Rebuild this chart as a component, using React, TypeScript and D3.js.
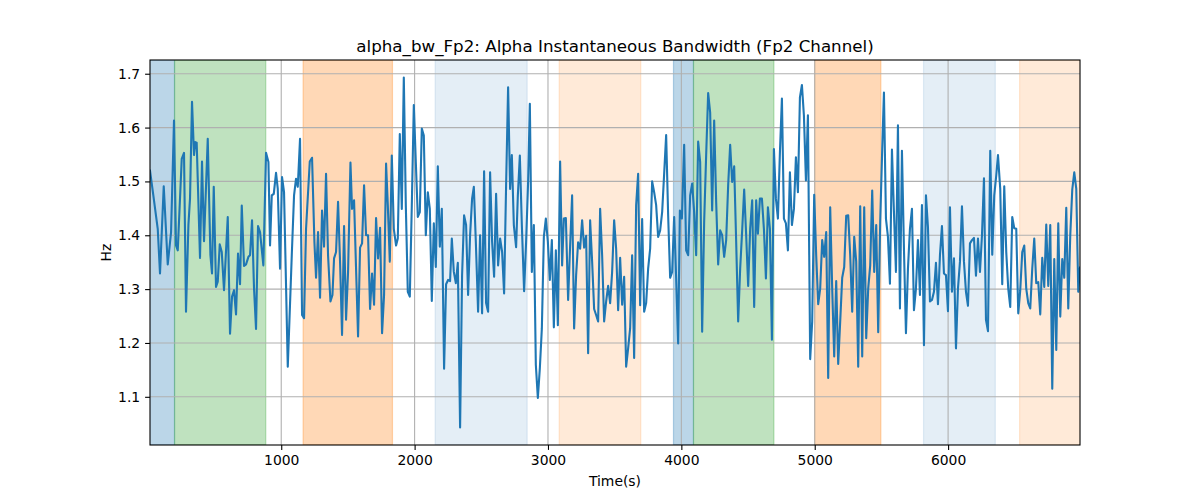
import { useEffect, useRef } from 'react';
import * as d3 from 'd3';

// sample times (s) and alpha bandwidth (Hz)
const times: number[] = [
  16, 41, 74, 91, 119, 149, 174, 196, 211, 224, 254, 271, 286, 304, 316, 331, 346, 356, 366, 391,
  406, 421, 449, 469, 481, 494, 511, 524, 539, 554, 571, 599, 616, 631, 646, 661, 676, 691, 704, 721,
  736, 754, 766, 781, 796, 811, 826, 841, 866,
  886, 904, 916, 929, 944, 961, 974, 991, 1006, 1021, 1049, 1079, 1096, 1111, 1124, 1141, 1156, 1171,
  1186, 1214, 1231, 1249, 1261, 1276, 1291, 1306, 1321, 1336, 1351, 1369, 1384, 1396, 1411, 1426, 1441,
  1456, 1471, 1486, 1501, 1519, 1531, 1546, 1561, 1576, 1591, 1606, 1621, 1636, 1651, 1666, 1681, 1696,
  1711, 1726, 1741, 1756, 1771,
  1786, 1799, 1814, 1829, 1844, 1861, 1874, 1889, 1904, 1919, 1934, 1949, 1964, 1979, 1994, 2009, 2024,
  2039, 2054, 2069, 2084, 2099, 2114, 2129, 2144, 2159, 2174, 2189, 2204, 2221, 2236, 2251, 2266, 2279,
  2294, 2309, 2324, 2341, 2356, 2371, 2386, 2401, 2416, 2431, 2444, 2459, 2476, 2491, 2506, 2521, 2536,
  2551, 2566, 2581, 2596, 2611, 2626, 2641, 2656, 2671, 2686,
  2701, 2716, 2729, 2744, 2761, 2774, 2789, 2804, 2821, 2836, 2851, 2864, 2879, 2894, 2909, 2924, 2939,
  2954, 2969, 2984, 2999, 3014, 3029, 3044, 3059, 3074, 3091, 3106, 3119, 3134, 3151, 3166, 3181, 3196,
  3211, 3226, 3241, 3256, 3271, 3286, 3301, 3316, 3331, 3346, 3361, 3376, 3391, 3406, 3421, 3436, 3451,
  3466, 3481, 3496, 3511, 3526, 3541, 3556, 3571,
  3586, 3601, 3616, 3631, 3646, 3661, 3676, 3691, 3706, 3721, 3736, 3751, 3766, 3781, 3796, 3811, 3826,
  3841, 3856, 3871, 3886, 3901, 3916, 3931, 3946, 3961, 3976, 3989, 4004, 4021, 4036, 4051, 4066, 4081,
  4096, 4111, 4126, 4141, 4156, 4171, 4186, 4201, 4216, 4231, 4246, 4261, 4276, 4291, 4306, 4321, 4336,
  4351, 4366, 4381, 4396, 4411, 4426, 4441, 4456, 4471, 4486,
  4501, 4516, 4531, 4546, 4561, 4574, 4589, 4604, 4619, 4634, 4649, 4664, 4679, 4694, 4709, 4724, 4739,
  4754, 4769, 4784, 4799, 4814, 4829, 4844, 4859, 4874, 4889, 4904, 4919, 4934, 4949, 4966, 4981, 4996,
  5011, 5026, 5041, 5056, 5071, 5086, 5101, 5116, 5131, 5146, 5161, 5176, 5191, 5206, 5221, 5236, 5251,
  5266, 5281, 5296, 5311, 5326, 5341, 5356, 5371,
  5386, 5401, 5416, 5431, 5446, 5461, 5476, 5491, 5506, 5519, 5534, 5549, 5564, 5579, 5594, 5609, 5624,
  5639, 5654, 5669, 5684, 5699, 5714, 5729, 5744, 5759, 5774, 5789, 5804, 5819, 5834, 5849, 5864, 5879,
  5894, 5909, 5924, 5939, 5954, 5969, 5984, 5999, 6014, 6029, 6044, 6059, 6074, 6089, 6104, 6119, 6134,
  6149, 6164, 6179, 6194, 6209, 6224, 6239, 6254, 6269, 6284, 6299, 6316,
  6331, 6346, 6361, 6374, 6391, 6406, 6421, 6436, 6451, 6466, 6481, 6496, 6511, 6526, 6541, 6556, 6571,
  6586, 6601, 6616, 6631, 6646, 6661, 6676, 6691, 6706, 6721, 6736, 6751, 6766, 6781, 6796, 6811, 6826,
  6841, 6856, 6871, 6886, 6901, 6916, 6931, 6946, 6961, 6976, 6989,
];

const bandwidth: number[] = [
  1.52, 1.474, 1.412, 1.329, 1.491, 1.346, 1.406, 1.613, 1.381, 1.372, 1.542, 1.553, 1.258, 1.419, 1.468,
  1.648, 1.549, 1.573, 1.572, 1.358, 1.537, 1.389, 1.579, 1.363, 1.329, 1.49, 1.304, 1.314, 1.383, 1.369,
  1.298, 1.434, 1.217, 1.286, 1.298, 1.253, 1.366, 1.309, 1.455, 1.343, 1.346, 1.36, 1.363, 1.428, 1.301,
  1.226, 1.417, 1.406, 1.344,
  1.553, 1.536, 1.381, 1.474, 1.477, 1.516, 1.486, 1.338, 1.508, 1.48, 1.156, 1.363, 1.474, 1.505, 1.49,
  1.579, 1.252, 1.246, 1.412, 1.537, 1.544, 1.386, 1.321, 1.406, 1.284, 1.446, 1.379, 1.514, 1.363, 1.277,
  1.289, 1.357, 1.369, 1.462, 1.351, 1.215, 1.417, 1.243, 1.332, 1.535, 1.449, 1.465, 1.338, 1.212, 1.377,
  1.385, 1.493, 1.4, 1.4, 1.263, 1.329, 1.271, 1.432, 1.357, 1.414, 1.218, 1.289,
  1.533, 1.456, 1.351, 1.548, 1.412, 1.381, 1.394, 1.588, 1.449, 1.693, 1.456, 1.295, 1.286, 1.456, 1.642,
  1.536, 1.434, 1.443, 1.598, 1.585, 1.4, 1.48, 1.449, 1.278, 1.422, 1.341, 1.528, 1.379, 1.449, 1.152,
  1.309, 1.317, 1.315, 1.394, 1.332, 1.311, 1.349, 1.043, 1.326, 1.437, 1.419, 1.289, 1.4, 1.468, 1.49,
  1.388, 1.258, 1.4, 1.255, 1.519, 1.274, 1.258, 1.517, 1.388, 1.323, 1.477, 1.344, 1.394, 1.369, 1.292,
  1.493,
  1.675, 1.486, 1.549, 1.419, 1.378, 1.474, 1.548, 1.419, 1.296, 1.388, 1.499, 1.644, 1.332, 1.419, 1.159,
  1.098, 1.153, 1.227, 1.397, 1.431, 1.388, 1.317, 1.391, 1.229, 1.372, 1.233, 1.537, 1.344, 1.431, 1.432,
  1.28, 1.381, 1.474, 1.227, 1.326, 1.387, 1.375, 1.428, 1.377, 1.399, 1.181, 1.428, 1.351, 1.263, 1.252,
  1.24, 1.449, 1.363, 1.24, 1.277, 1.306, 1.274, 1.332, 1.428, 1.375, 1.261, 1.358, 1.271, 1.323,
  1.156, 1.19, 1.227, 1.363, 1.172, 1.456, 1.514, 1.27, 1.43, 1.258, 1.274, 1.338, 1.375, 1.5, 1.48,
  1.456, 1.397, 1.409, 1.443, 1.514, 1.586, 1.437, 1.321, 1.332, 1.434, 1.32, 1.199, 1.446, 1.431, 1.568,
  1.372, 1.363, 1.474, 1.496, 1.443, 1.363, 1.574, 1.536, 1.221, 1.425, 1.549, 1.664, 1.628, 1.446, 1.613,
  1.462, 1.346, 1.409, 1.4, 1.36, 1.391, 1.493, 1.568, 1.499, 1.528, 1.388, 1.24, 1.338, 1.409, 1.485,
  1.4,
  1.306, 1.412, 1.465, 1.267, 1.465, 1.403, 1.468, 1.468, 1.412, 1.32, 1.452, 1.412, 1.206, 1.56, 1.468,
  1.431, 1.554, 1.654, 1.431, 1.422, 1.372, 1.517, 1.419, 1.449, 1.545, 1.48, 1.656, 1.679, 1.622, 1.502,
  1.623, 1.17, 1.24, 1.475, 1.363, 1.272, 1.301, 1.391, 1.36, 1.406, 1.135, 1.452, 1.301, 1.175, 1.315,
  1.161, 1.24, 1.321, 1.341, 1.436, 1.437, 1.363, 1.258, 1.397, 1.351, 1.156, 1.454, 1.175, 1.452,
  1.209, 1.301, 1.344, 1.483, 1.332, 1.419, 1.22, 1.425, 1.56, 1.665, 1.431, 1.397, 1.31, 1.559, 1.443,
  1.332, 1.604, 1.264, 1.557, 1.375, 1.218, 1.338, 1.412, 1.449, 1.261, 1.301, 1.391, 1.289, 1.456, 1.196,
  1.474, 1.415, 1.277, 1.28, 1.295, 1.349, 1.272, 1.363, 1.417, 1.329, 1.326, 1.259, 1.452, 1.295, 1.357,
  1.19, 1.301, 1.351, 1.454, 1.351, 1.295, 1.269, 1.385, 1.391, 1.395, 1.325, 1.394, 1.332, 1.4, 1.506,
  1.243, 1.222, 1.557,
  1.364, 1.474, 1.511, 1.549, 1.486, 1.309, 1.491, 1.369, 1.301, 1.267, 1.434, 1.413, 1.412, 1.255, 1.298,
  1.369, 1.381, 1.301, 1.274, 1.264, 1.338, 1.394, 1.311, 1.313, 1.253, 1.358, 1.304, 1.42, 1.306, 1.419,
  1.115, 1.356, 1.187, 1.422, 1.249, 1.356, 1.321, 1.451, 1.264, 1.4, 1.485, 1.517, 1.486, 1.295, 1.34,
];

// shaded segments: start, end, kind
const spanStarts: number[] = [0, 200, 1164, 2154, 3084, 3941, 4091, 4999, 5816, 6536];
const spanEnds: number[] = [200, 884, 1834, 2844, 3696, 4091, 4694, 5496, 6354, 7100];
const spanKinds: string[] = [
  'blue', 'green', 'orange', 'blueLight', 'orangeLight',
  'blue', 'green', 'orange', 'blueLight', 'orangeLight',
];

const xTicks: number[] = [1000, 2000, 3000, 4000, 5000, 6000];
const yTicks: number[] = [1.1, 1.2, 1.3, 1.4, 1.5, 1.6, 1.7];

const TITLE = 'alpha_bw_Fp2: Alpha Instantaneous Bandwidth (Fp2 Channel)';

const spanStyle: Record<string, { color: string; alpha: number }> = {
  blue: { color: '#1f77b4', alpha: 0.3 },
  green: { color: '#2ca02c', alpha: 0.3 },
  orange: { color: '#ff7f0e', alpha: 0.3 },
  blueLight: { color: '#1f77b4', alpha: 0.12 },
  orangeLight: { color: '#ff7f0e', alpha: 0.16 },
};

export default function App() {
  const svgRef = useRef<SVGSVGElement | null>(null);

  useEffect(() => {
    const svgEl = svgRef.current;
    if (!svgEl) return;
    const svg = d3.select(svgEl);
    svg.selectAll('*').remove();

    const W = 1200;
    const H = 500;
    const margin = { top: 60, right: 120, bottom: 55, left: 150 };
    const innerW = W - margin.left - margin.right;
    const innerH = H - margin.top - margin.bottom;
    const font = 'DejaVu Sans, sans-serif';

    const data = times.map((t, i) => ({ t, v: bandwidth[i] }));

    const x = d3
      .scaleLinear()
      .domain(d3.extent(times) as [number, number])
      .range([0, innerW]);

    const [vMin, vMax] = d3.extent(bandwidth) as [number, number];
    const pad = (vMax - vMin) * 0.05;
    const y = d3
      .scaleLinear()
      .domain([vMin - pad, vMax + pad])
      .range([innerH, 0]);

    svg.append('rect').attr('width', W).attr('height', H).attr('fill', '#fff');

    const g = svg
      .append('g')
      .attr('transform', `translate(${margin.left},${margin.top})`);

    g.append('clipPath')
      .attr('id', 'plot-clip')
      .append('rect')
      .attr('width', innerW)
      .attr('height', innerH);

    const plot = g.append('g').attr('clip-path', 'url(#plot-clip)');

    // shaded spans
    spanStarts.forEach((s, i) => {
      const st = spanStyle[spanKinds[i]];
      plot
        .append('rect')
        .attr('x', x(s))
        .attr('y', 0)
        .attr('width', x(spanEnds[i]) - x(s))
        .attr('height', innerH)
        .attr('fill', st.color)
        .attr('fill-opacity', st.alpha)
        .attr('stroke', st.color)
        .attr('stroke-opacity', st.alpha)
        .attr('stroke-width', 1.2);
    });

    // grid
    plot
      .selectAll('line.gx')
      .data(xTicks)
      .enter()
      .append('line')
      .attr('x1', (d) => x(d))
      .attr('x2', (d) => x(d))
      .attr('y1', 0)
      .attr('y2', innerH)
      .attr('stroke', '#b0b0b0')
      .attr('stroke-width', 1.1);

    plot
      .selectAll('line.gy')
      .data(yTicks)
      .enter()
      .append('line')
      .attr('x1', 0)
      .attr('x2', innerW)
      .attr('y1', (d) => y(d))
      .attr('y2', (d) => y(d))
      .attr('stroke', '#b0b0b0')
      .attr('stroke-width', 1.1);

    const line = d3
      .line<{ t: number; v: number }>()
      .x((d) => x(d.t))
      .y((d) => y(d.v));

    plot
      .append('path')
      .datum(data)
      .attr('d', line)
      .attr('fill', 'none')
      .attr('stroke', '#1f77b4')
      .attr('stroke-width', 2.1)
      .attr('stroke-linejoin', 'round')
      .attr('stroke-linecap', 'square');

    // axes
    const xAxis = g
      .append('g')
      .attr('transform', `translate(0,${innerH})`)
      .call(
        d3
          .axisBottom(x)
          .tickValues(xTicks)
          .tickSize(4.9)
          .tickPadding(4.9)
          .tickFormat(d3.format('d')),
      );

    const yAxis = g.append('g').call(
      d3
        .axisLeft(y)
        .tickValues(yTicks)
        .tickSize(4.9)
        .tickPadding(4.9)
        .tickFormat(d3.format('.1f')),
    );

    [xAxis, yAxis].forEach((ax) => {
      ax.select('.domain').remove();
      ax.selectAll('line').attr('stroke', '#000').attr('stroke-width', 1.1);
      ax.selectAll('text')
        .attr('fill', '#000')
        .attr('font-family', font)
        .attr('font-size', 13.9);
    });

    // spines
    g.append('rect')
      .attr('width', innerW)
      .attr('height', innerH)
      .attr('fill', 'none')
      .attr('stroke', '#000')
      .attr('stroke-width', 1.1);

    svg
      .append('text')
      .attr('x', margin.left + innerW / 2)
      .attr('y', 52)
      .attr('text-anchor', 'middle')
      .attr('font-family', font)
      .attr('font-size', 16.7)
      .attr('fill', '#000')
      .text(TITLE);

    svg
      .append('text')
      .attr('x', margin.left + innerW / 2)
      .attr('y', 486)
      .attr('text-anchor', 'middle')
      .attr('font-family', font)
      .attr('font-size', 13.9)
      .attr('fill', '#000')
      .text('Time(s)');

    svg
      .append('text')
      .attr('transform', `translate(111,${margin.top + innerH / 2}) rotate(-90)`)
      .attr('text-anchor', 'middle')
      .attr('font-family', font)
      .attr('font-size', 13.9)
      .attr('fill', '#000')
      .text('Hz');
  }, []);

  return (
    <svg
      ref={svgRef}
      width={1200}
      height={500}
      style={{ position: 'absolute', left: 0, top: 0, display: 'block' }}
    />
  );
}
